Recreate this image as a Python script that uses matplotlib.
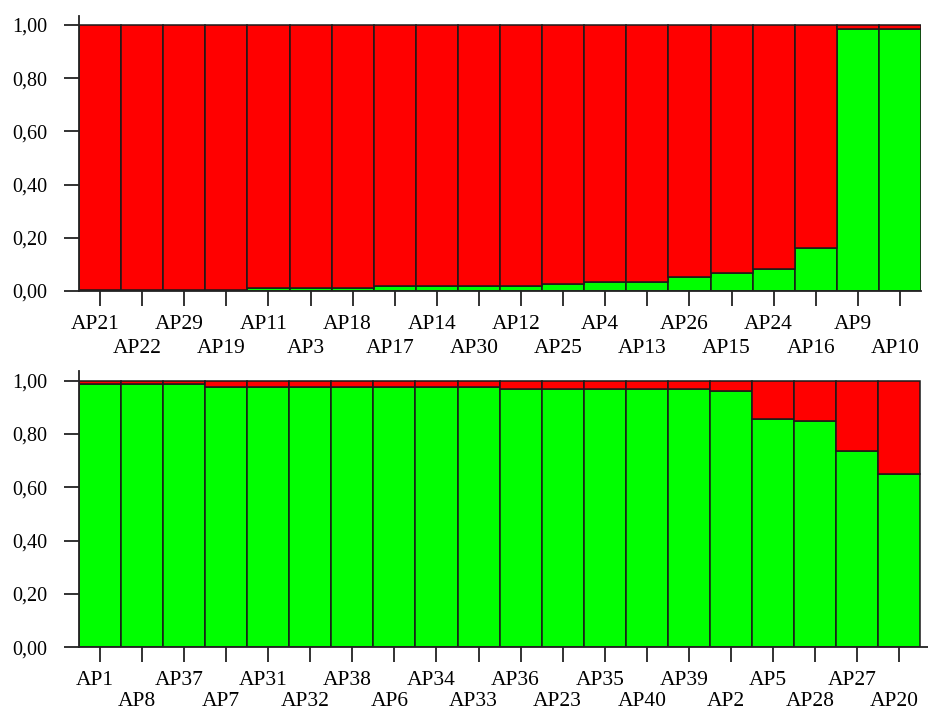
import matplotlib.pyplot as plt
import matplotlib.transforms as mtransforms

# membership (cluster 1 = green, rest = red) per accession
top_labels = ['AP21', 'AP22', 'AP29', 'AP19', 'AP11', 'AP3', 'AP18', 'AP17', 'AP14', 'AP30',
              'AP12', 'AP25', 'AP4', 'AP13', 'AP26', 'AP15', 'AP24', 'AP16', 'AP9', 'AP10']
top_green = [0.003, 0.003, 0.003, 0.003, 0.010, 0.010, 0.010, 0.017, 0.017, 0.017,
             0.018, 0.025, 0.033, 0.033, 0.053, 0.069, 0.084, 0.163, 0.985, 0.985]

bottom_labels = ['AP1', 'AP8', 'AP37', 'AP7', 'AP31', 'AP32', 'AP38', 'AP6', 'AP34', 'AP33',
                 'AP36', 'AP23', 'AP35', 'AP40', 'AP39', 'AP2', 'AP5', 'AP28', 'AP27', 'AP20']
bottom_green = [0.986, 0.986, 0.986, 0.977, 0.977, 0.977, 0.977, 0.977, 0.977, 0.977,
                0.969, 0.969, 0.969, 0.969, 0.969, 0.961, 0.856, 0.849, 0.737, 0.650]

yticks = [0.0, 0.2, 0.4, 0.6, 0.8, 1.0]
ytick_labels = ['0,00', '0,20', '0,40', '0,60', '0,80', '1,00']

GREEN = '#00ff00'
RED = '#ff0000'
EDGE = '#1a1a1a'

plt.rcParams['font.family'] = ['Liberation Serif', 'DejaVu Serif']

fig = plt.figure(figsize=(9.29, 7.11), dpi=100)
ax_top = fig.add_axes([79 / 929, 1 - 291 / 711, 842 / 929, 275.3 / 711])
ax_bot = fig.add_axes([79 / 929, 1 - 647.3 / 711, 850 / 929, 276 / 711])


def draw_panel(ax, labels, green, xmax, pad2):
    x = list(range(len(labels)))
    red = [1 - g for g in green]
    ax.bar(x, green, width=1.0, color=GREEN, edgecolor=EDGE, linewidth=1.1)
    ax.bar(x, red, bottom=green, width=1.0, color=RED, edgecolor=EDGE, linewidth=1.1)
    ax.set_xlim(-0.5, xmax)
    ax.set_ylim(0, 1.035)
    ax.set_yticks(yticks)
    ax.set_yticklabels(ytick_labels, fontsize=14.5)
    ax.set_xticks(x)
    ax.set_xticklabels(labels, fontsize=15.5)
    ax.tick_params(axis='y', length=11, width=1.3, pad=12, color='#222222')
    ax.tick_params(axis='x', length=11, width=1.3, pad=6, color='#222222')
    # alternate labels on two rows
    for i, tick in enumerate(ax.xaxis.get_major_ticks()):
        if i % 2 == 1:
            tick.set_pad(pad2)
    shift = mtransforms.ScaledTranslation(-5 / 100, 0, fig.dpi_scale_trans)
    for lab in ax.get_xticklabels():
        lab.set_transform(lab.get_transform() + shift)
    ax.spines['top'].set_visible(False)
    ax.spines['right'].set_visible(False)
    ax.spines['left'].set_linewidth(1.3)
    ax.spines['bottom'].set_linewidth(1.3)
    ax.spines['left'].set_color('#222222')
    ax.spines['bottom'].set_color('#222222')


draw_panel(ax_top, top_labels, top_green, 19.5, 23.5)
draw_panel(ax_bot, bottom_labels, bottom_green, 19.71, 21.0)

plt.savefig('out.png', dpi=100)
